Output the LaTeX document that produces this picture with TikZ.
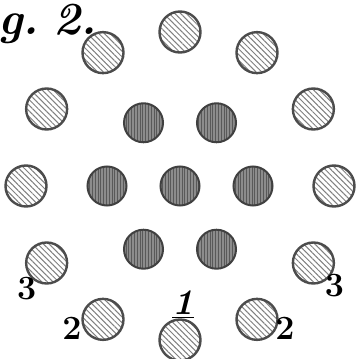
\documentclass[tikz,border=0pt]{standalone}
\usepackage{tikz}
\usetikzlibrary{positioning,calc,patterns.meta}

\begin{document}
\begin{tikzpicture}[
    x=0.5pt, y=0.5pt,
    every node/.style={font=\small},
    rim/.style={draw=black!70, circle, line width=1.2pt, inner sep=0pt, minimum size=20.5pt, preaction={fill=white}, pattern={Lines[angle=-45,distance=2pt,line width=0.5pt]}, pattern color=black!50},
    core/.style={draw=black!75, circle, line width=1pt, inner sep=0pt, minimum size=19.5pt, preaction={fill=black!45}, pattern={Lines[angle=90,distance=1.4pt,line width=0.45pt]}, pattern color=black!65},
    num/.style={font=\fontsize{17}{20}\selectfont\bfseries, inner sep=0pt},
    title/.style={font=\fontsize{23}{26}\selectfont\bfseries\itshape, inner sep=0pt}
]
\useasboundingbox (0,0) rectangle (355,359);
\coordinate (mid) at (180,173);

% --- Outer ring: twelve hatched circles ---
\foreach \a in {0,30,...,330}
    \node[rim] (rim\a) at ($(mid)+(\a:154)$) {};

% --- Inner hexagon and centre: dark circles ---
\node[core] (core) at (mid) {};
\foreach \a in {0,60,...,300}
    \node[core] (core\a) at ($(mid)+(\a:73)$) {};

% --- Numbering of the lower circles ---
\node[num, font=\fontsize{18}{20}\selectfont\bfseries\itshape] (one) at ($(rim270)+(3,35)$) {\underline{1}};
\node[num] (twoL) at ($(rim240)+(-31,-9)$) {2};
\node[num] (twoR) at ($(rim300)+(28,-9)$) {2};
\node[num] (threeL) at ($(rim210)+(-20,-26)$) {3};
\node[num] (threeR) at ($(rim330)+(21,-23)$) {3};

% --- Figure caption, cut at the left edge ---
\node[title, anchor=base west] (fig) at (-2,324) {g.\hspace{0.3em}2.};
\end{tikzpicture}
\end{document}
